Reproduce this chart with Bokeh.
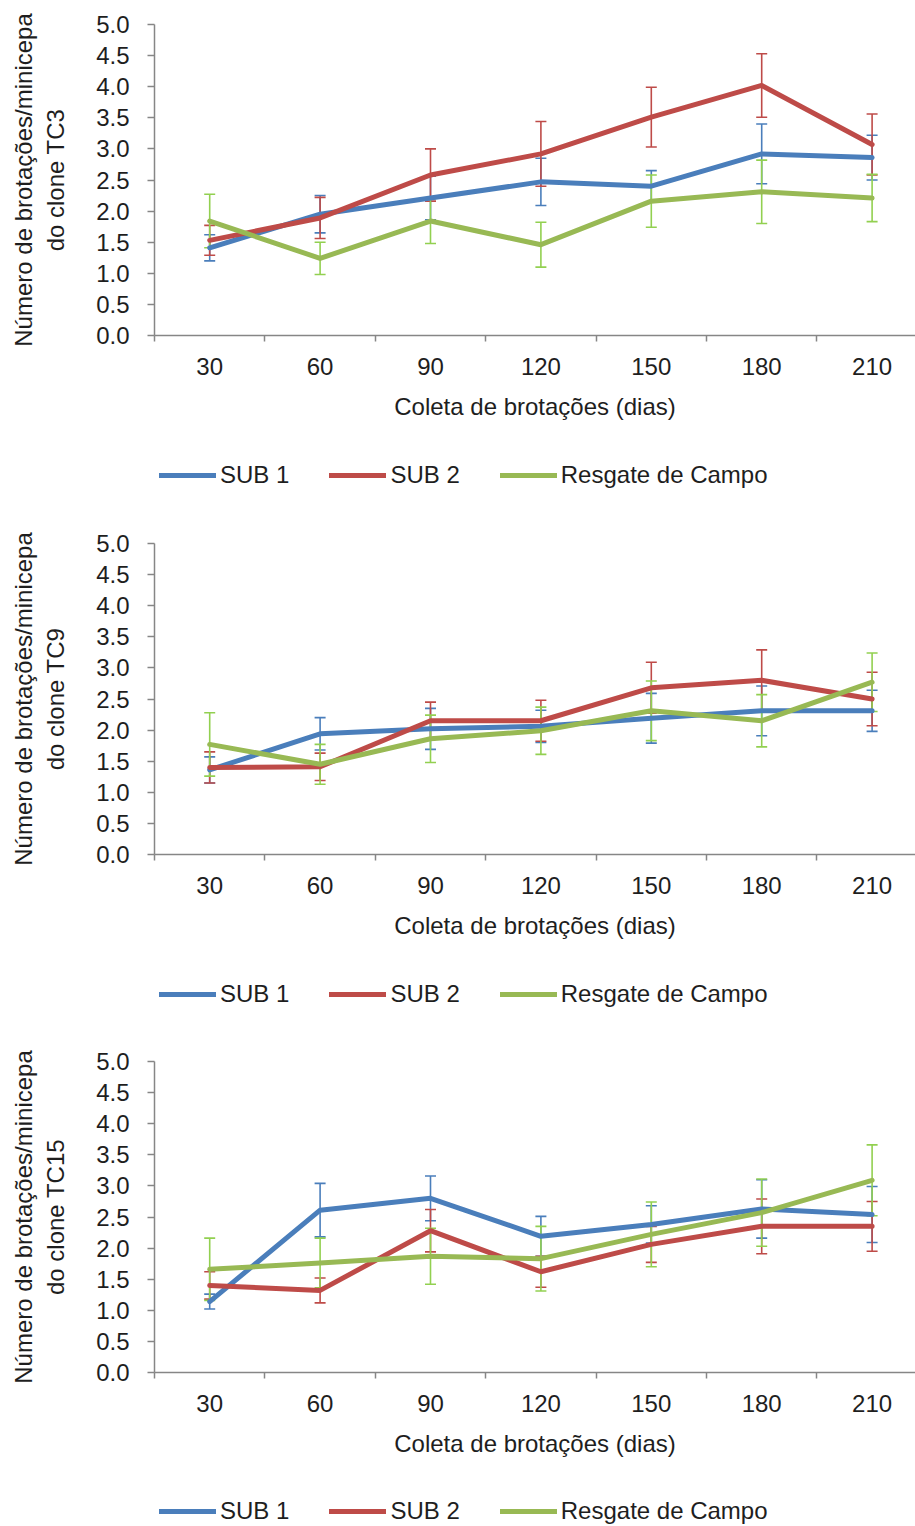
from bokeh.plotting import figure
from bokeh.models import (ColumnDataSource, Whisker, TeeHead, Range1d, FixedTicker,
                          NumeralTickFormatter, Legend, LegendItem)
from bokeh.layouts import column
from bokeh.embed import file_html
from bokeh.resources import INLINE

# ---------------- data ----------------
dias = ["30", "60", "90", "120", "150", "180", "210"]
series_names = ["SUB 1", "SUB 2", "Resgate de Campo"]
clones = ["TC3", "TC9", "TC15"]

tc3_sub1 = [1.41, 1.95, 2.21, 2.47, 2.40, 2.92, 2.86]
tc3_sub1_err = [0.21, 0.30, 0.35, 0.38, 0.25, 0.48, 0.36]
tc3_sub2 = [1.53, 1.89, 2.58, 2.92, 3.51, 4.02, 3.07]
tc3_sub2_err = [0.24, 0.33, 0.42, 0.52, 0.48, 0.51, 0.49]
tc3_campo = [1.84, 1.24, 1.84, 1.46, 2.16, 2.31, 2.21]
tc3_campo_err = [0.43, 0.26, 0.36, 0.36, 0.42, 0.51, 0.38]

tc9_sub1 = [1.36, 1.94, 2.02, 2.06, 2.19, 2.31, 2.31]
tc9_sub1_err = [0.21, 0.26, 0.33, 0.26, 0.40, 0.40, 0.33]
tc9_sub2 = [1.40, 1.41, 2.15, 2.15, 2.68, 2.80, 2.50]
tc9_sub2_err = [0.25, 0.22, 0.30, 0.33, 0.41, 0.49, 0.43]
tc9_campo = [1.77, 1.45, 1.86, 1.99, 2.31, 2.15, 2.77]
tc9_campo_err = [0.51, 0.32, 0.38, 0.38, 0.48, 0.42, 0.47]

tc15_sub1 = [1.14, 2.61, 2.80, 2.19, 2.38, 2.63, 2.54]
tc15_sub1_err = [0.12, 0.43, 0.36, 0.32, 0.30, 0.47, 0.45]
tc15_sub2 = [1.40, 1.32, 2.28, 1.62, 2.06, 2.35, 2.35]
tc15_sub2_err = [0.22, 0.20, 0.34, 0.25, 0.29, 0.44, 0.40]
tc15_campo = [1.66, 1.76, 1.87, 1.83, 2.22, 2.57, 3.09]
tc15_campo_err = [0.50, 0.40, 0.45, 0.52, 0.52, 0.54, 0.57]

y_ticks = [0, 0.5, 1.0, 1.5, 2.0, 2.5, 3.0, 3.5, 4.0, 4.5, 5.0]

panels = [
    ("TC3", [(tc3_sub1, tc3_sub1_err), (tc3_sub2, tc3_sub2_err), (tc3_campo, tc3_campo_err)]),
    ("TC9", [(tc9_sub1, tc9_sub1_err), (tc9_sub2, tc9_sub2_err), (tc9_campo, tc9_campo_err)]),
    ("TC15", [(tc15_sub1, tc15_sub1_err), (tc15_sub2, tc15_sub2_err), (tc15_campo, tc15_campo_err)]),
]

# ---------------- style ----------------
FONT = "Liberation Sans"
FS = "24px"
TXT = "#1e1e1e"
AX = "#868686"
line_colors = ["#4A7EBB", "#BE4B48", "#98B954"]
err_colors = ["#4A7EBB", "#BE4B48", "#92D050"]

W = 915
FRAME_LEFT = 154
FRAME_H = 311
BOTTOM = 100
SPACING = 110.4
LINE_W = 5


def make_panel(clone, data, top):
    ncat = len(dias)
    xs = list(range(1, ncat + 1))
    frame_w = W - FRAME_LEFT
    height = top + FRAME_H + BOTTOM
    p = figure(width=W, height=height, output_backend="svg", toolbar_location=None,
               x_range=Range1d(0.5, 0.5 + frame_w / SPACING), y_range=Range1d(0, 5),
               min_border_left=FRAME_LEFT, min_border_right=0, min_border_top=top,
               min_border_bottom=BOTTOM)
    p.outline_line_color = None
    p.grid.visible = False
    p.background_fill_color = "white"
    p.border_fill_color = "white"

    # x axis
    xa = p.xaxis[0]
    xa.ticker = FixedTicker(ticks=xs, minor_ticks=[i + 0.5 for i in range(0, ncat + 1)])
    xa.major_label_overrides = {i + 1: d for i, d in enumerate(dias)}
    xa.major_tick_line_color = None
    xa.major_tick_out = 6
    xa.major_tick_in = 0
    xa.minor_tick_line_color = AX
    xa.minor_tick_out = 6
    xa.minor_tick_in = 0
    xa.minor_tick_line_width = 1.5
    xa.axis_line_color = AX
    xa.axis_line_width = 1.5
    xa.major_label_text_font = FONT
    xa.major_label_text_font_size = FS
    xa.major_label_text_color = TXT
    xa.major_label_standoff = 16
    xa.axis_label = "Coleta de brotações (dias)"
    xa.axis_label_text_font = FONT
    xa.axis_label_text_font_size = FS
    xa.axis_label_text_font_style = "normal"
    xa.axis_label_text_color = TXT
    xa.axis_label_standoff = 15

    # y axis
    ya = p.yaxis[0]
    ya.ticker = FixedTicker(ticks=y_ticks, minor_ticks=[])
    ya.formatter = NumeralTickFormatter(format="0.0")
    ya.major_tick_line_color = AX
    ya.major_tick_line_width = 1.5
    ya.major_tick_out = 7
    ya.major_tick_in = 0
    ya.axis_line_color = AX
    ya.axis_line_width = 1.5
    ya.major_label_text_font = FONT
    ya.major_label_text_font_size = FS
    ya.major_label_text_color = TXT
    ya.major_label_standoff = 18
    ya.axis_label = "Número de brotações/minicepa\ndo clone " + clone
    ya.axis_label_text_font = FONT
    ya.axis_label_text_font_size = FS
    ya.axis_label_text_font_style = "normal"
    ya.axis_label_text_color = TXT
    ya.axis_label_standoff = 24

    for k, (vals, errs) in enumerate(data):
        src = ColumnDataSource(dict(
            x=xs, y=vals,
            upper=[v + e for v, e in zip(vals, errs)],
            lower=[v - e for v, e in zip(vals, errs)],
        ))
        wk = Whisker(source=src, base="x", upper="upper", lower="lower", dimension="height",
                     line_color=err_colors[k], line_width=1.6,
                     upper_head=TeeHead(size=11, line_color=err_colors[k], line_width=1.6),
                     lower_head=TeeHead(size=11, line_color=err_colors[k], line_width=1.6))
        p.add_layout(wk)
        p.line("x", "y", source=src, line_color=line_colors[k], line_width=LINE_W,
               line_join="round", line_cap="round")
    return p


def make_legend(height, vy):
    # legend strip below each panel; frame is aligned with the panel's frame by the column
    q = figure(width=W, height=height, output_backend="svg", toolbar_location=None,
               x_range=Range1d(0, 1), y_range=Range1d(0, 1),
               x_axis_location=None, y_axis_location=None,
               min_border_left=0, min_border_right=0, min_border_top=0, min_border_bottom=0)
    q.outline_line_color = None
    q.grid.visible = False
    items = []
    nan = float("nan")
    for k, name in enumerate(series_names):
        r = q.line(x=[nan], y=[nan], line_color=line_colors[k], line_width=LINE_W,
                   line_cap="round")
        items.append(LegendItem(label=name, renderers=[r]))
    leg = Legend(items=items, orientation="horizontal", location=(5, vy),
                 padding=0, margin=0, border_line_color=None, background_fill_alpha=0,
                 glyph_width=57, glyph_height=20, label_standoff=4, spacing=40,
                 label_text_font=FONT, label_text_font_size=FS, label_text_color=TXT,
                 label_height=20)
    q.add_layout(leg)
    return q


tops = [24, 24, 23]
leg_heights = [519 - (24 + FRAME_H + BOTTOM), 519 - (24 + FRAME_H + BOTTOM),
               1526 - 1038 - (23 + FRAME_H + BOTTOM)]
leg_vy = [30, 30, 1]

children = []
for (clone, data), t, lh, vy in zip(panels, tops, leg_heights, leg_vy):
    children.append(make_panel(clone, data, t))
    children.append(make_legend(lh, vy))

layout = column(*children, spacing=0)
open("out.html", "w").write(file_html(layout, INLINE))
